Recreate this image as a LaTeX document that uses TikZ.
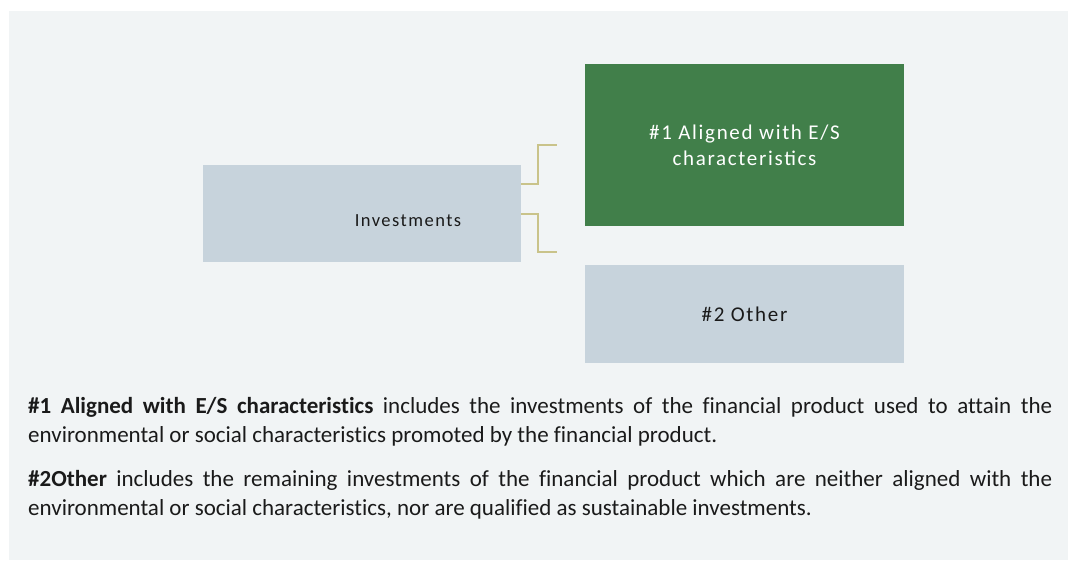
\documentclass[tikz,border=0pt]{standalone}
\usepackage{fontspec}
\setmainfont[Ligatures=NoCommon]{Carlito}
\newfontfamily\boxfont[LetterSpace=8]{Carlito}
\usepackage {tikz}
\usetikzlibrary {positioning}
\definecolor{panel}{HTML}{F1F4F5}
\definecolor{slate}{HTML}{C7D3DC}
\definecolor{leaf}{HTML}{417F4A}
\definecolor{olive}{HTML}{C9C38A}
\definecolor{ink}{HTML}{1A1A1A}
\tikzset{bracket/.style = {draw=olive, line width=2pt}}

\begin{document}
\begin{tikzpicture}[x=1pt,y=-1pt,box node/.style={rectangle,inner sep=0pt,align=center,font=\boxfont\fontsize{21}{26}\selectfont},body text/.style={anchor=base west,inner sep=0pt,text=ink,text width=1024pt,align=justify,font=\fontsize{23}{29}\selectfont\sloppy}]
            \useasboundingbox (0,0) rectangle (1068,560);
            \fill[panel] (9,11) rectangle (1068,560);
            \node[box node, fill=slate, minimum width=318pt, minimum height=97.5pt, label={[xshift=46pt,yshift=-7pt,text=ink,font=\boxfont\fontsize{18.5}{22}\selectfont]center:Investments}] (inv) at (362,213.5) {};
            \node[box node, fill=leaf, text=white, minimum width=319pt, minimum height=162pt] (aligned) at (744.5,145) {\#1 Aligned with E/S\\characteristics};
            \node[box node, fill=slate, text=ink, minimum width=319pt, minimum height=98pt] (other) [below=39pt of aligned] {\#2 Other};
            \coordinate (up) at (557,145);
            \coordinate (dn) at (557,252);
            \draw[bracket] ([yshift=30pt]inv.east) -- ++(17,0) |- (up);
            \draw[bracket] (inv.east) -- ++(17,0) |- (dn);
            \node[body text] (para1) at (28,413) {\textbf{\#1 Aligned with E/S characteristics} includes the investments of the financial product used to attain the\linebreak environmental or social characteristics promoted by the financial product.};
            \node[body text] (para2) at (28,486) {\textbf{\#2Other} includes the remaining investments of the financial product which are neither aligned with the\linebreak environmental or social characteristics, nor are qualified as sustainable investments.};
        \end{tikzpicture}
\end{document}
